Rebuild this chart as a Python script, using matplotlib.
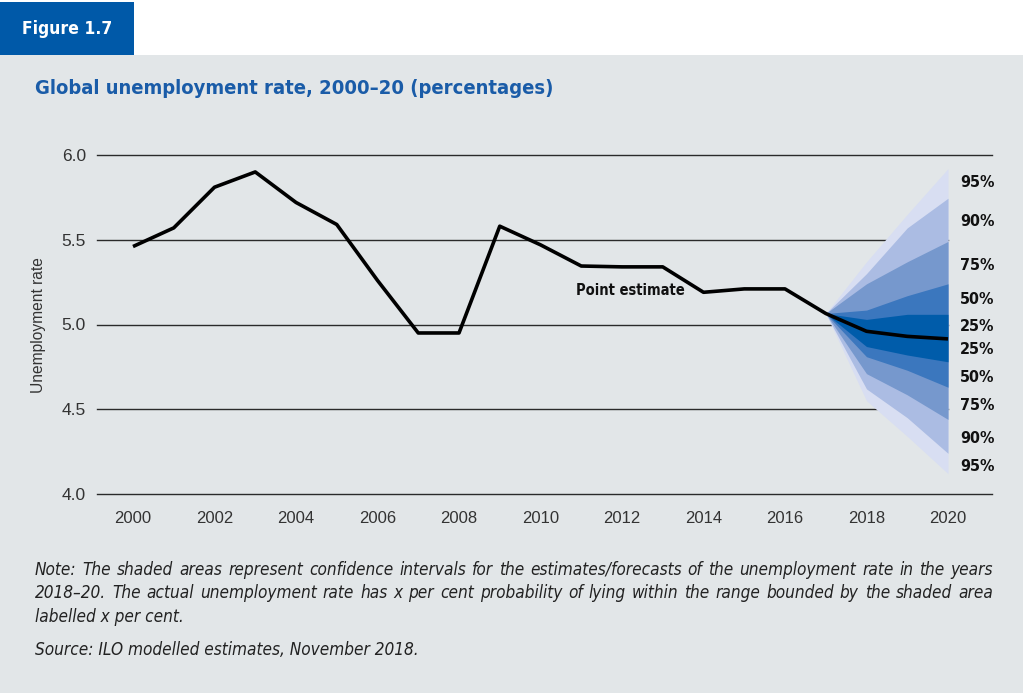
"""Global unemployment rate 2000-20 with fan chart of forecast confidence bands."""

import matplotlib

matplotlib.use("Agg")
import matplotlib.pyplot as plt
from matplotlib import font_manager
from matplotlib.patches import Rectangle

W, H = 1023, 693

years = list(range(2000, 2021))
rate = [5.46, 5.57, 5.81, 5.90, 5.72, 5.59, 5.26, 4.95, 4.95, 5.58, 5.47,
        5.345, 5.34, 5.34, 5.19, 5.21, 5.21, 5.065, 4.96, 4.93, 4.915]

# fan of confidence bands, 2017 is the apex
fan_years = [2017, 2018, 2019, 2020]
upper_95 = [5.065, 5.37, 5.65, 5.92]
upper_90 = [5.065, 5.30, 5.57, 5.745]
upper_75 = [5.065, 5.24, 5.37, 5.49]
upper_50 = [5.065, 5.085, 5.17, 5.24]
upper_25 = [5.065, 5.03, 5.06, 5.06]
lower_25 = [5.065, 4.87, 4.82, 4.78]
lower_50 = [5.065, 4.81, 4.73, 4.63]
lower_75 = [5.065, 4.71, 4.585, 4.44]
lower_90 = [5.065, 4.62, 4.45, 4.24]
lower_95 = [5.065, 4.55, 4.34, 4.12]

band_labels = ["95%", "90%", "75%", "50%", "25%", "25%", "50%", "75%", "90%", "95%"]
label_y = [5.835, 5.61, 5.35, 5.145, 4.99, 4.85, 4.685, 4.52, 4.33, 4.165]

yticks = [4.0, 4.5, 5.0, 5.5, 6.0]
xticks = list(range(2000, 2021, 2))

note_lines = [
    "Note: The shaded areas represent confidence intervals for the estimates/forecasts of the unemployment rate in the years",
    "2018\u201320. The actual unemployment rate has x per cent probability of lying within the range bounded by the shaded area",
]
note_last = "labelled x per cent."
source = "Source: ILO modelled estimates, November 2018."

BLUE = "#0059a8"
BG = "#e2e6e8"
INK = "#333333"
BAND_COLORS = ["#d8def2", "#abbce3", "#7698cd", "#3b77be", "#005caa"]

_names = {f.name for f in font_manager.fontManager.ttflist}
NARROW = "Liberation Sans Narrow" if "Liberation Sans Narrow" in _names else "DejaVu Sans"
REGULAR = "Liberation Sans" if "Liberation Sans" in _names else "DejaVu Sans"
STRETCH = "normal" if NARROW == "Liberation Sans Narrow" else "condensed"


def px(x, y):
    return x / W, 1 - y / H


def justified(fig, line, y, x0, x1, **kw):
    r = fig.canvas.get_renderer()
    words = line.split()
    texts = [fig.text(0, 1 - y / H, w, va="center", **kw) for w in words]
    widths = [t.get_window_extent(r).width for t in texts]
    gap = (x1 - x0 - sum(widths)) / (len(words) - 1)
    x = x0
    for t, w in zip(texts, widths):
        t.set_x(x / W)
        x += w + gap


fig = plt.figure(figsize=(W / 100, H / 100), dpi=100, facecolor="white")
fig.patches.append(Rectangle((0, 0), 1, 1 - 55 / H, transform=fig.transFigure,
                             facecolor=BG, edgecolor="none", zorder=-10))
fig.patches.append(Rectangle(px(0, 55), 134 / W, 53 / H, transform=fig.transFigure,
                             facecolor=BLUE, edgecolor="none", zorder=-10))
fig.text(*px(67, 29), "Figure 1.7", color="white", fontsize=12.5, fontweight="bold",
         family=NARROW, fontstretch=STRETCH, ha="center", va="center")
fig.text(*px(35, 88), "Global unemployment rate, 2000\u201320 (percentages)", color="#1a5ca8",
         fontsize=14.5, fontweight="bold", family=NARROW, fontstretch=STRETCH, va="center")

ax = fig.add_axes([97 / W, 1 - 494 / H, (992 - 97) / W, (494 - 155) / H])
ax.set_facecolor("none")
x0, x1 = 2000 - 36 / 40.75, 2020 + 44 / 40.75
ax.set_xlim(x0, x1)
ax.set_ylim(4.0, 6.0)
ax.set_yticks(yticks)
ax.set_yticklabels([f"{v:.1f}" for v in yticks])
ax.set_xticks(xticks)
for s in ax.spines.values():
    s.set_visible(False)
ax.tick_params(axis="y", length=0, pad=8, labelsize=12.5, labelcolor=INK)
ax.tick_params(axis="x", length=0, pad=12, labelsize=12, labelcolor=INK)
for lab in ax.get_xticklabels() + ax.get_yticklabels():
    lab.set_family(REGULAR)

# gridlines: outer ones run full width, inner ones stop under the fan
for v in yticks:
    right = x1 if v in (yticks[0], yticks[-1]) else fan_years[-1]
    ax.plot([x0, right], [v, v], color="#2a2a2a", lw=1.0, zorder=0.5, clip_on=False)

uppers = [upper_95, upper_90, upper_75, upper_50, upper_25]
lowers = [lower_95, lower_90, lower_75, lower_50, lower_25]
for up, lo, c in zip(uppers, lowers, BAND_COLORS):
    ax.fill_between(fan_years, lo, up, color=c, lw=0, zorder=1)

ax.plot(years, rate, color="black", lw=2.6, solid_joinstyle="round",
        solid_capstyle="butt", zorder=3)

for lab, y in zip(band_labels, label_y):
    ax.text(2020.3, y, lab, fontsize=11.5, fontweight="bold", family=NARROW,
            fontstretch=STRETCH, va="center", ha="left", color="#111111")
ax.text(2012.2, 5.20, "Point estimate", fontsize=10.5, fontweight="bold", family=NARROW,
        fontstretch=STRETCH, ha="center", va="center", color="#111111")

fig.text(*px(39, 325), "Unemployment rate", rotation=90, fontsize=11.2, family=REGULAR,
         color=INK, ha="center", va="center")

note_kw = dict(fontsize=12.3, style="italic", family=NARROW, fontstretch=STRETCH, color="#222222")
for i, line in enumerate(note_lines):
    justified(fig, line, 570 + 23.5 * i, 35, 993, **note_kw)
fig.text(*px(35, 617), note_last, va="center", **note_kw)
fig.text(*px(35, 650), source, va="center", **note_kw)

fig.savefig("out.png", dpi=100, facecolor=fig.get_facecolor())
